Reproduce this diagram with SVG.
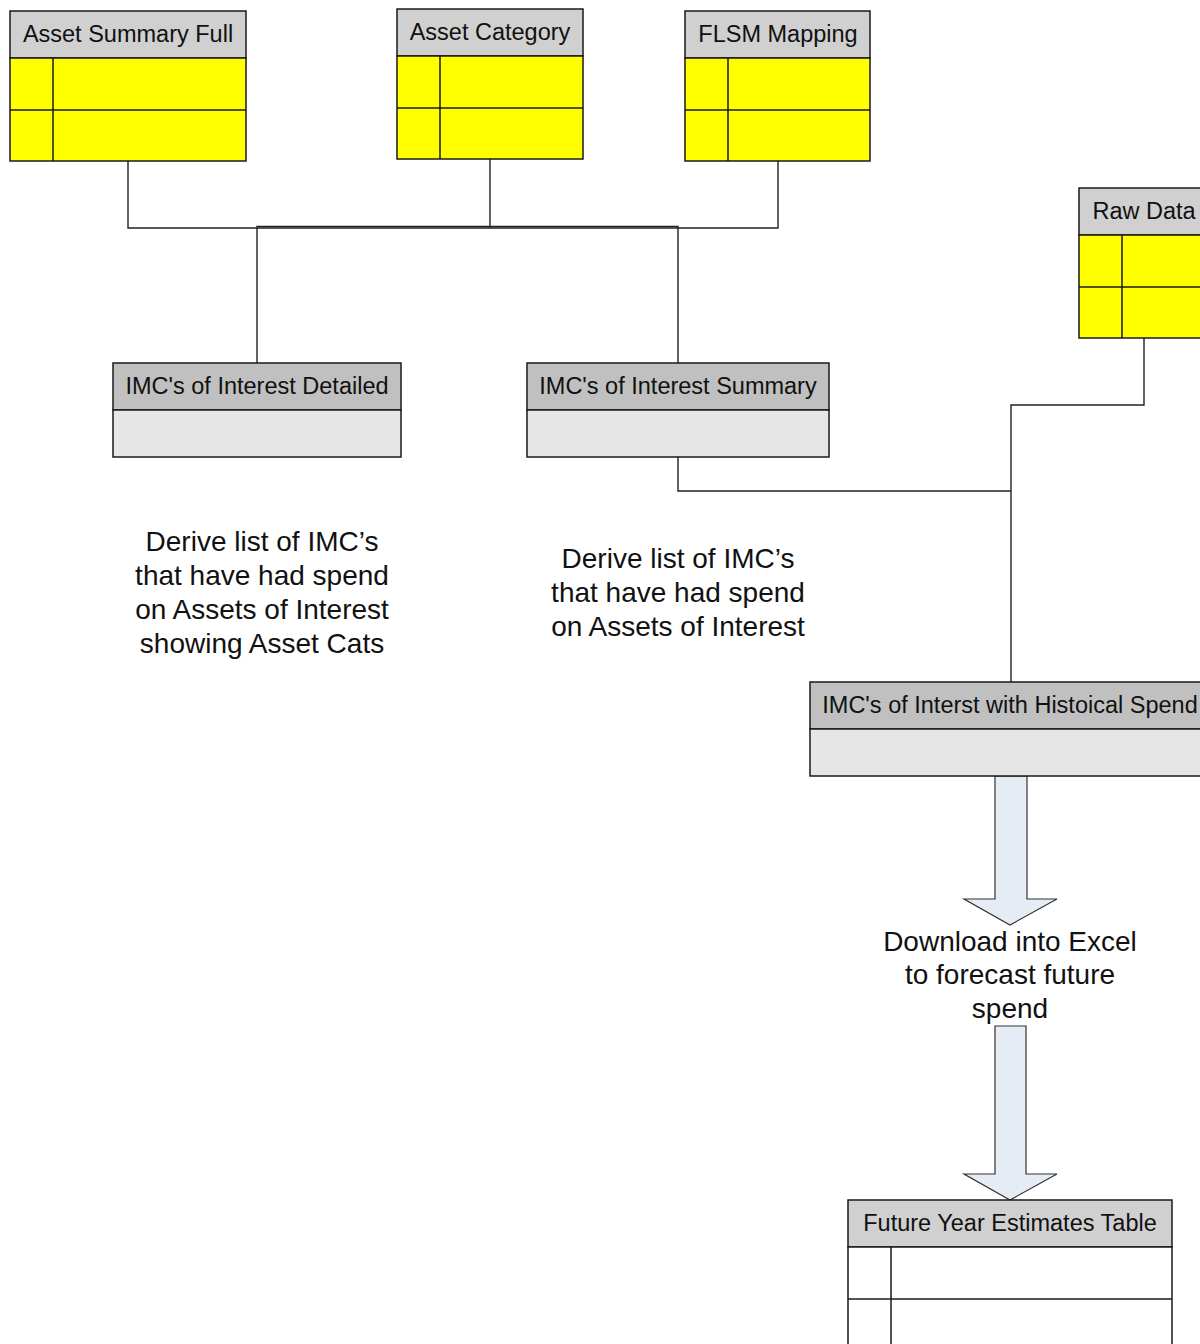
<svg xmlns="http://www.w3.org/2000/svg" width="1200" height="1344" viewBox="0 0 1200 1344">
  <style>
    .box { stroke: #1a1a1a; stroke-width: 1.5; }
    .hdr { fill: #d0d0d0; }
    .hdr2 { fill: #c0c0c0; }
    .yel { fill: #ffff00; }
    .body { fill: #e6e6e6; }
    .wht { fill: #ffffff; }
    .sep { stroke: #1a1a1a; stroke-width: 1.5; fill: none; }
    .title { font-family: "Liberation Sans", Arial, sans-serif; font-size: 23.5px; fill: #111; text-anchor: middle; }
    .note { font-family: "Liberation Sans", Arial, sans-serif; font-size: 28px; fill: #111; text-anchor: middle; }
    .conn { stroke: #222; stroke-width: 1.4; fill: none; }
    .bigarrow { fill: #e6ecf6; stroke: #333; stroke-width: 1.2; }
  </style>

  <rect width="1200" height="1344" fill="#ffffff"/>

  <!-- connectors -->
  <g id="connectors">
    <path class="conn" d="M128,161 V228 H778 V161"/>
    <path class="conn" d="M490,159 V228"/>
    <path class="conn" d="M257,363 V226.5 H678 V363"/>
    <path class="conn" d="M678,457 V491 H1011"/>
    <path class="conn" d="M1144,338 V405 H1011 V682"/>
    <polygon class="bigarrow" points="995,776 1027,776 1027,899 1057,899 1010,925 964,899 995,899"/>
    <polygon class="bigarrow" points="995,1026 1026,1026 1026,1174 1057,1174 1010,1200 964,1174 995,1174"/>
  </g>

  <!-- Asset Summary Full -->
  <g id="asset-summary-full">
    <rect class="box hdr" x="10" y="11" width="236" height="47"/>
    <rect class="box yel" x="10" y="58" width="236" height="103"/>
    <path class="sep" d="M10,110 H246 M53,58 V161"/>
    <text class="title" x="128" y="42">Asset Summary Full</text>
  </g>

  <!-- Asset Category -->
  <g id="asset-category">
    <rect class="box hdr" x="397" y="9" width="186" height="47"/>
    <rect class="box yel" x="397" y="56" width="186" height="103"/>
    <path class="sep" d="M397,108 H583 M440,56 V159"/>
    <text class="title" x="490" y="40">Asset Category</text>
  </g>

  <!-- FLSM Mapping -->
  <g id="flsm-mapping">
    <rect class="box hdr" x="685" y="11" width="185" height="47"/>
    <rect class="box yel" x="685" y="58" width="185" height="103"/>
    <path class="sep" d="M685,110 H870 M728,58 V161"/>
    <text class="title" x="778" y="42">FLSM Mapping</text>
  </g>

  <!-- Raw Data -->
  <g id="raw-data">
    <rect class="box hdr" x="1079" y="188" width="130" height="47"/>
    <rect class="box yel" x="1079" y="235" width="130" height="103"/>
    <path class="sep" d="M1079,287 H1209 M1122,235 V338"/>
    <text class="title" x="1144" y="219">Raw Data</text>
  </g>

  <!-- IMC's of Interest Detailed -->
  <g id="imc-detailed">
    <rect class="box hdr2" x="113" y="363" width="288" height="47"/>
    <rect class="box body" x="113" y="410" width="288" height="47"/>
    <text class="title" x="257" y="394">IMC's of Interest Detailed</text>
  </g>

  <!-- IMC's of Interest Summary -->
  <g id="imc-summary">
    <rect class="box hdr2" x="527" y="363" width="302" height="47"/>
    <rect class="box body" x="527" y="410" width="302" height="47"/>
    <text class="title" x="678" y="394">IMC's of Interest Summary</text>
  </g>

  <!-- IMC's with historical spend -->
  <g id="imc-historical">
    <rect class="box hdr2" x="810" y="682" width="402" height="47"/>
    <rect class="box body" x="810" y="729" width="402" height="47"/>
    <text class="title" x="1010" y="713">IMC's of Interst with Histoical Spend</text>
  </g>

  <!-- Future Year Estimates Table -->
  <g id="future-estimates">
    <rect class="box hdr" x="848" y="1200" width="324" height="47"/>
    <rect class="box wht" x="848" y="1247" width="324" height="110"/>
    <path class="sep" d="M848,1299 H1172 M891,1247 V1350"/>
    <text class="title" x="1010" y="1231">Future Year Estimates Table</text>
  </g>

  <!-- annotations -->
  <g id="note-detailed">
    <text class="note" x="262" y="551">Derive list of IMC’s</text>
    <text class="note" x="262" y="585">that have had spend</text>
    <text class="note" x="262" y="619">on Assets of Interest</text>
    <text class="note" x="262" y="653">showing Asset Cats</text>
  </g>
  <g id="note-summary">
    <text class="note" x="678" y="568">Derive list of IMC’s</text>
    <text class="note" x="678" y="602">that have had spend</text>
    <text class="note" x="678" y="636">on Assets of Interest</text>
  </g>
  <g id="note-download">
    <text class="note" x="1010" y="951">Download into Excel</text>
    <text class="note" x="1010" y="984">to forecast future</text>
    <text class="note" x="1010" y="1018">spend</text>
  </g>
</svg>
